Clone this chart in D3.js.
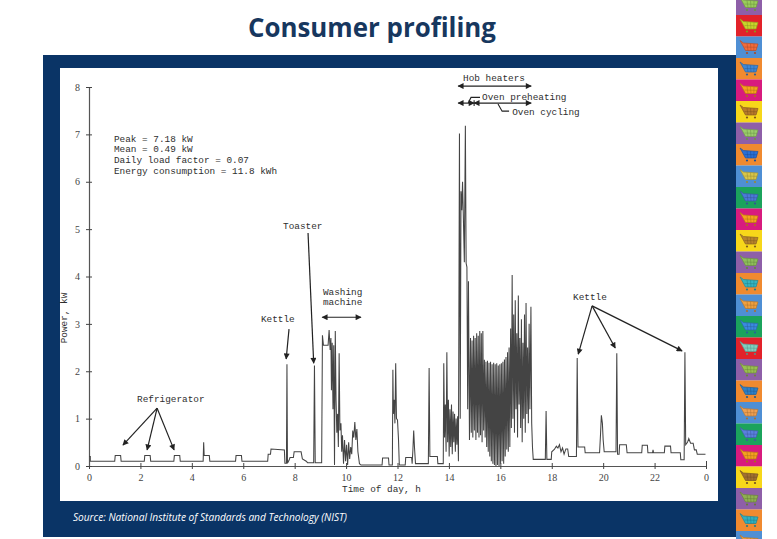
<!DOCTYPE html>
<html>
<head>
<meta charset="utf-8">
<script src="https://cdnjs.cloudflare.com/ajax/libs/d3/7.8.5/d3.min.js"></script>
<style>
  body { margin: 0; background: #fff; }
  svg { display: block; }
</style>
</head>
<body>
<div id="slide"></div>
<script>
var hourTicks = [0, 2, 4, 6, 8, 10, 12, 14, 16, 18, 20, 22, 24];
var hourTickLabels = ["0", "2", "4", "6", "8", "10", "12", "14", "16", "18", "20", "22", "0"];
var kwTicks = [0, 1, 2, 3, 4, 5, 6, 7, 8];

var statsLines = [
  "Peak = 7.18 kW",
  "Mean = 0.49 kW",
  "Daily load factor = 0.07",
  "Energy consumption = 11.8 kWh"
];

// [hour, kW]
var loadTrace = [
  [0.00,0.20],[0.05,0.20],[0.05,0.10],
  [1.00,0.10],[1.02,0.22],[1.23,0.22],[1.25,0.10],
  [2.15,0.10],[2.17,0.22],[2.38,0.22],[2.40,0.10],
  [3.30,0.10],[3.32,0.22],[3.53,0.22],[3.55,0.10],
  [4.44,0.10],[4.46,0.50],[4.48,0.22],[4.68,0.22],[4.70,0.10],
  [5.70,0.10],[5.72,0.22],[5.93,0.22],[5.95,0.10],
  [6.95,0.10],[6.97,0.25],[7.06,0.25],[7.08,0.36],[7.35,0.35],[7.60,0.34],[7.62,0.06],[7.68,0.06],
  [7.70,2.15],[7.72,0.06],[7.78,0.12],[7.82,0.18],[7.95,0.18],[7.98,0.30],[8.25,0.30],[8.30,0.15],
  [8.45,0.10],[8.50,0.07],[8.74,0.07],[8.77,2.12],[8.80,0.07],[9.05,0.07],
  [9.08,2.76],[9.12,2.55],[9.30,2.55],[9.34,2.87],[9.38,2.45],[9.41,2.70],[9.43,1.60],[9.46,2.60],
  [9.49,1.20],[9.52,2.55],[9.55,0.02],[9.58,2.85],[9.61,1.40],[9.64,0.70],[9.67,1.10],[9.70,0.40],
  [9.73,2.38],[9.76,0.75],[9.80,0.90],[9.83,0.30],[9.86,0.65],[9.90,0.05],[9.94,0.55],[9.98,0.10],
  [10.02,0.45],[10.06,0.02],[10.10,0.50],[10.14,0.15],[10.18,0.40],[10.22,0.25],[10.26,0.75],
  [10.30,0.60],[10.34,0.93],[10.38,0.55],[10.42,0.78],[10.46,0.30],[10.52,0.05],[10.58,0.02],
  [11.40,0.02],[11.42,0.17],[11.65,0.17],[11.67,0.02],
  [11.80,0.02],[11.82,2.03],[11.84,1.10],[11.87,1.40],[11.90,0.90],[11.93,2.17],[11.96,1.00],
  [12.00,0.97],[12.04,0.55],[12.07,0.02],
  [12.30,0.02],[12.32,0.18],[12.55,0.18],[12.57,0.05],[12.60,0.35],[12.63,0.75],[12.66,0.40],[12.70,0.05],
  [13.20,0.05],[13.23,2.07],[13.26,0.20],[13.55,0.20],[13.57,0.05],
  [13.78,0.05],[13.80,2.17],[13.83,0.60],[13.86,1.30],[13.89,0.30],[13.92,2.40],[13.95,0.50],
  [13.98,1.40],[14.01,0.20],[14.04,1.20],[14.07,0.40],[14.10,1.30],[14.13,0.25],[14.16,1.15],
  [14.19,0.50],[14.22,1.10],[14.25,0.30],[14.28,1.00],[14.31,0.45],[14.34,1.05],[14.37,0.10],
  [14.41,7.02],[14.44,1.00],[14.47,5.80],[14.50,5.40],[14.53,6.00],[14.56,5.30],[14.60,4.30],
  [14.64,7.18],[14.67,4.28],[14.70,4.20],[14.73,1.20],[14.76,3.90],[14.80,0.55],
  [14.84,2.70],[14.87,0.70],[14.90,2.65],[14.93,0.60],[14.96,2.75],[14.99,0.75],[15.02,2.70],
  [15.05,0.55],[15.08,2.80],[15.11,0.70],[15.14,2.75],[15.17,0.60],[15.20,2.85],[15.23,0.65],
  [15.26,2.80],[15.29,0.50],[15.32,2.85],[15.35,0.75],
  [15.38,2.24],[15.41,0.60],[15.44,2.20],[15.47,0.40],[15.50,2.22],[15.53,0.30],[15.56,2.18],
  [15.59,0.20],[15.62,2.20],[15.65,0.10],[15.68,2.15],[15.71,0.05],[15.74,2.18],[15.77,0.02],
  [15.80,2.15],[15.83,0.00],[15.86,2.17],[15.89,0.02],[15.92,2.12],[15.95,0.00],[15.98,2.15],
  [16.01,0.05],[16.04,2.17],[16.07,0.10],[16.10,2.20],[16.13,0.05],[16.16,2.25],[16.19,0.20],
  [16.22,2.30],[16.25,0.35],[16.28,2.40],[16.31,0.30],[16.34,2.50],[16.37,0.40],
  [16.40,2.90],[16.43,0.80],[16.46,4.03],[16.49,1.00],[16.52,3.20],[16.55,0.70],[16.58,3.50],
  [16.61,1.20],[16.64,2.80],[16.67,0.60],[16.70,3.60],[16.73,1.30],[16.76,2.70],[16.79,0.80],
  [16.82,3.10],[16.85,0.50],[16.88,2.60],[16.91,1.00],[16.94,3.20],[16.97,0.70],[17.00,3.44],
  [17.03,1.10],[17.06,2.50],[17.09,0.90],[17.12,3.00],[17.15,1.20],[17.19,3.36],[17.22,0.90],
  [17.25,0.40],[17.28,0.14],
  [17.75,0.14],[17.78,1.16],[17.81,0.14],[17.98,0.14],[18.00,0.30],[18.10,0.35],[18.18,0.42],
  [18.24,0.38],[18.30,0.45],[18.36,0.30],[18.42,0.38],[18.48,0.25],[18.55,0.36],[18.62,0.36],
  [18.66,0.20],[18.96,0.20],[18.99,2.28],[19.02,0.40],[19.28,0.40],[19.30,0.28],[19.86,0.28],
  [19.90,0.70],[19.93,1.07],[19.97,0.90],[20.00,0.55],[20.04,0.30],[20.50,0.30],[20.53,2.38],
  [20.56,0.25],[20.62,0.25],[20.64,0.45],[20.90,0.45],[20.93,0.28],[21.50,0.28],[21.52,0.44],
  [21.72,0.44],[21.74,0.28],[21.92,0.28],[21.94,0.34],[21.96,0.28],[22.38,0.28],[22.40,0.42],
  [22.62,0.42],[22.64,0.28],[23.00,0.28],[23.02,0.13],[23.15,0.13],[23.18,2.40],[23.21,0.45],
  [23.28,0.50],[23.33,0.58],[23.40,0.48],[23.50,0.48],[23.55,0.34],[23.62,0.34],[23.66,0.25],
  [23.98,0.25]
];

var refrigeratorTargets = [[1.32, 0.44], [2.26, 0.34], [3.31, 0.34]];
var kettleTargets = [[19.03, 2.36], [20.47, 2.49], [23.07, 2.43]];

var tileColors = ["#8e5fa8","#e2222a","#4f8fd4","#f08a30","#d81b7e","#f7d71a","#8e5fa8","#f08a30",
  "#4f8fd4","#1ba35c","#d81b7e","#f7d71a","#8e5fa8","#f08a30","#4f8fd4","#1ba35c","#e2222a",
  "#8e5fa8","#f08a30","#4f8fd4","#1ba35c","#d81b7e","#f7d71a","#8e5fa8","#f08a30","#4f8fd4"];
var cartColors = ["#9acd5a","#c8d62b","#f26b3a","#3f87d6","#f7a31c","#b87a2a","#9acd6a","#2a6fd6",
  "#d8c64a","#4a7ad8","#f7a31c","#b8842c","#8fbf5a","#35b5c0","#f0a040","#3a8ae0","#7fd0c0",
  "#9ac050","#2f80c8","#f0a050","#5a80e0","#f5a020","#a07030","#90b050","#30b0c0","#f0a040"];

var W = 777, H = 539;
var margin = {top: 87, left: 89},
    width = 617,
    height = 379;
var mono = "'Liberation Mono', 'DejaVu Sans Mono', monospace";
var serif = "'Liberation Serif', 'DejaVu Serif', serif";
var ink = "#2e2e2e";

var svg = d3.select("#slide").append("svg")
  .attr("width", W).attr("height", H);

svg.append("defs").append("marker")
  .attr("id", "head")
  .attr("viewBox", "0 0 10 10")
  .attr("refX", 9).attr("refY", 5)
  .attr("markerUnits", "userSpaceOnUse")
  .attr("markerWidth", 7).attr("markerHeight", 6)
  .attr("orient", "auto-start-reverse")
  .append("path")
    .attr("d", "M0,0 L10,5 L0,10 z")
    .attr("fill", "#222");

// title
svg.append("text")
  .attr("x", 372).attr("y", 37)
  .attr("text-anchor", "middle")
  .attr("font-family", "'Open Sans', Lato, sans-serif")
  .attr("font-weight", "bold")
  .attr("font-size", 26)
  .attr("textLength", 248)
  .attr("lengthAdjust", "spacingAndGlyphs")
  .attr("fill", "#17375e")
  .text("Consumer profiling");

// navy frame and white panel
svg.append("rect").attr("x", 43).attr("y", 55).attr("width", 693).attr("height", 482).attr("fill", "#0a3466");
svg.append("rect").attr("x", 60).attr("y", 68).attr("width", 658).attr("height", 433).attr("fill", "#fff");

svg.append("text")
  .attr("x", 73).attr("y", 521)
  .attr("font-family", "'Open Sans', Lato, sans-serif")
  .attr("font-style", "italic")
  .attr("font-size", 10)
  .attr("textLength", 274)
  .attr("lengthAdjust", "spacingAndGlyphs")
  .attr("fill", "#fff")
  .text("Source: National Institute of Standards and Technology (NIST)");

// cart strip
var strip = svg.append("g").attr("transform", "translate(736,0)");
var tiles = strip.selectAll("g.tile")
  .data(tileColors)
  .enter().append("g")
    .attr("class", "tile")
    .attr("transform", function(d, i) { return "translate(0," + (-6.5 + i * 21.5) + ")"; });
tiles.append("rect").attr("width", 26).attr("height", 21.6).attr("fill", function(d) { return d; });
tiles.append("path")
  .attr("d", "M4,4 L7.5,6.5 L22,7.5 L20,14 L9.5,14 Z")
  .attr("fill", function(d, i) { return cartColors[i]; })
  .attr("stroke", function(d, i) { return d3.color(cartColors[i]).darker(0.8); })
  .attr("stroke-width", 0.7);
tiles.append("path")
  .attr("d", "M11,7 L12,14 M14.5,7.2 L15,14 M18,7.4 L17.8,14 M8.5,10.5 L21,10.8")
  .attr("stroke", function(d, i) { return d3.color(cartColors[i]).darker(1); })
  .attr("stroke-width", 0.5);
tiles.append("circle").attr("cx", 11).attr("cy", 16.5).attr("r", 1.1)
  .attr("fill", function(d, i) { return d3.color(cartColors[i]).darker(1); });
tiles.append("circle").attr("cx", 19).attr("cy", 16.5).attr("r", 1.1)
  .attr("fill", function(d, i) { return d3.color(cartColors[i]).darker(1); });

// chart
var g = svg.append("g")
  .attr("transform", "translate(" + margin.left + "," + margin.top + ")");

var x = d3.scaleLinear().domain([0, 24]).range([0, width]);
var y = d3.scaleLinear().domain([0, 8]).range([height, 0]);

var xAxis = g.append("g")
  .attr("transform", "translate(0," + height + ")")
  .call(d3.axisBottom(x)
    .tickValues(hourTicks)
    .tickFormat(function(d, i) { return hourTickLabels[i]; })
    .tickSize(3).tickSizeOuter(0).tickPadding(4.5));
xAxis.selectAll(".tick line").attr("y1", -3).attr("stroke", "#444");
xAxis.select(".tick:last-of-type line").attr("y1", -5);

var yAxis = g.append("g")
  .call(d3.axisLeft(y)
    .tickValues(kwTicks)
    .tickSize(3).tickSizeOuter(0).tickPadding(6));
yAxis.selectAll(".tick line").attr("x1", 3).attr("stroke", "#444");

[xAxis, yAxis].forEach(function(a) {
  a.select(".domain").attr("stroke", "#555").attr("stroke-width", 1.2);
  a.selectAll("text")
    .attr("font-family", serif)
    .attr("font-size", 10)
    .attr("fill", "#444");
});

g.append("text")
  .attr("x", 253).attr("y", 405)
  .attr("font-family", mono).attr("font-size", 9.4).attr("fill", ink)
  .text("Time of day, h");

g.append("text")
  .attr("transform", "translate(-22," + 231 + ") rotate(-90)")
  .attr("text-anchor", "middle")
  .attr("font-family", mono).attr("font-size", 9.4).attr("fill", ink)
  .text("Power, kW");

// the load curve
g.append("path")
  .datum(loadTrace)
  .attr("fill", "none")
  .attr("stroke", "#444")
  .attr("stroke-width", 1.05)
  .attr("d", d3.line()
    .x(function(d) { return x(d[0]); })
    .y(function(d) { return y(d[1]); }));

// annotations
function label(h, kw, txt) {
  return g.append("text")
    .attr("x", x(h)).attr("y", y(kw))
    .attr("font-family", mono).attr("font-size", 9.4).attr("fill", ink)
    .text(txt);
}

function arrow(h1, k1, h2, k2, both) {
  var l = g.append("line")
    .attr("x1", x(h1)).attr("y1", y(k1))
    .attr("x2", x(h2)).attr("y2", y(k2))
    .attr("stroke", "#222").attr("stroke-width", 1.2)
    .attr("marker-end", "url(#head)");
  if (both) l.attr("marker-start", "url(#head)");
}

function leader(pts) {
  g.append("path")
    .attr("d", d3.line().x(function(d) { return x(d[0]); }).y(function(d) { return y(d[1]); })(pts))
    .attr("fill", "none").attr("stroke", "#222").attr("stroke-width", 1.1);
}

statsLines.forEach(function(s, i) {
  label(0.97, 6.84 - i * 0.222, s);
});

label(1.87, 1.36, "Refrigerator");
refrigeratorTargets.forEach(function(t) { arrow(2.65, 1.22, t[0], t[1]); });

label(6.69, 3.04, "Kettle");
arrow(7.78, 2.89, 7.67, 2.26);

label(7.55, 5.0, "Toaster");
arrow(8.52, 4.92, 8.74, 2.17);

label(9.1, 3.62, "Washing");
label(9.1, 3.39, "machine");
arrow(9.07, 3.14, 10.58, 3.14, true);

label(14.55, 8.13, "Hob heaters");
arrow(14.36, 8.02, 17.2, 8.02, true);

arrow(14.36, 7.66, 14.98, 7.66, true);
arrow(14.98, 7.66, 17.2, 7.66, true);
leader([[14.98, 7.72], [14.98, 7.60]]);
leader([[14.75, 7.66], [14.86, 7.78], [15.21, 7.78]]);
label(15.29, 7.72, "Oven preheating");
leader([[15.91, 7.64], [16.07, 7.49], [16.34, 7.49]]);
label(16.46, 7.41, "Oven cycling");

label(18.83, 3.50, "Kettle");
kettleTargets.forEach(function(t) { arrow(19.57, 3.38, t[0], t[1]); });
</script>
</body>
</html>
